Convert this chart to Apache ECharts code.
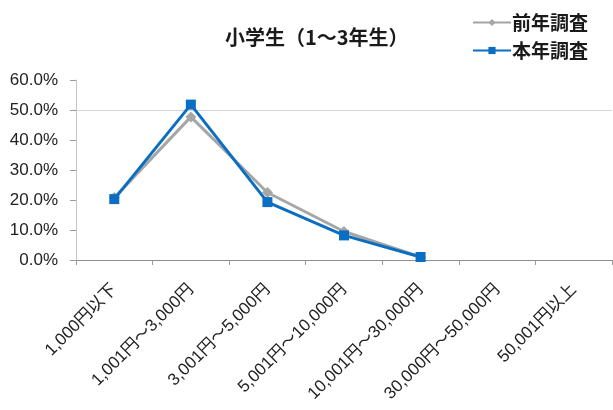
<!DOCTYPE html>
<html>
<head>
<meta charset="utf-8">
<script src="https://cdn.jsdelivr.net/npm/echarts@6/dist/echarts.min.js"></script>
<style>
  html, body { margin: 0; padding: 0; background: #fff; }
  #chart { width: 613px; height: 410px; }
</style>
</head>
<body>
<div id="chart"></div>
<script>
// カテゴリ（小遣いの金額帯）
var categories = ['1,000円以下', '1,001円～3,000円', '3,001円～5,000円', '5,001円～10,000円', '10,001円～30,000円', '30,000円～50,000円', '50,001円以上'];
// 前年調査 / 本年調査 (%)
var lastYear = [20.8, 47.7, 22.5, 9.5, 1.0, null, null];
var thisYear = [20.3, 51.8, 19.3, 8.2, 1.0, null, null];
var yTicks = [0, 10, 20, 30, 40, 50, 60];

var FONT = '"Liberation Sans", "Noto Sans CJK JP", sans-serif';
var CJK = '"Noto Sans CJK JP", sans-serif';

var chart = echarts.init(document.getElementById('chart'));
chart.setOption({
    animation: false,
    textStyle: { fontFamily: FONT },
    title: {
        text: '小学生（1～3年生）',
        left: 220,
        top: 22,
        textStyle: { fontSize: 20, fontWeight: 'bold', color: '#1a1a1a', fontFamily: CJK }
    },
    legend: {
        orient: 'vertical',
        left: 467,
        top: 8,
        itemGap: 9,
        itemWidth: 38,
        itemHeight: 9,
        textStyle: { fontSize: 19, fontWeight: 'bold', color: '#1a1a1a', fontFamily: CJK, padding: [0, 0, 0, -4] },
        data: ['前年調査', '本年調査']
    },
    grid: {
        left: 76,
        right: 1,
        top: 80,
        bottom: 150,
        containLabel: false
    },
    xAxis: {
        type: 'category',
        data: categories,
        boundaryGap: true,
        axisLine: { lineStyle: { color: '#8c8c8c', width: 1 } },
        axisTick: { show: true, length: 5, lineStyle: { color: '#9a9a9a' } },
        axisLabel: {
            rotate: 45,
            interval: 0,
            fontSize: 17,
            color: '#222',
            margin: 27
        }
    },
    yAxis: {
        type: 'value',
        min: yTicks[0],
        max: yTicks[yTicks.length - 1],
        interval: 10,
        axisLine: { show: true, lineStyle: { color: '#c4c4c4' } },
        axisTick: { show: true, length: 6, lineStyle: { color: '#9a9a9a' } },
        axisLabel: {
            fontSize: 17,
            color: '#222',
            margin: 18,
            formatter: function (v) { return v.toFixed(1) + '%'; }
        },
        splitLine: {
            show: true,
            // 50%だけ薄く表示されている
            lineStyle: { color: ['transparent', 'transparent', 'transparent', 'transparent', 'transparent', '#d6d6d6', 'transparent'] }
        }
    },
    series: [
        {
            name: '前年調査',
            type: 'line',
            data: lastYear,
            symbol: 'diamond',
            symbolSize: 11,
            lineStyle: { color: '#a6a6a6', width: 3 },
            itemStyle: { color: '#a6a6a6' },
            connectNulls: false
        },
        {
            name: '本年調査',
            type: 'line',
            data: thisYear,
            symbol: 'rect',
            symbolSize: 10,
            lineStyle: { color: '#0a6fc2', width: 3 },
            itemStyle: { color: '#0a6fc2' },
            connectNulls: false
        }
    ]
});
</script>
</body>
</html>
